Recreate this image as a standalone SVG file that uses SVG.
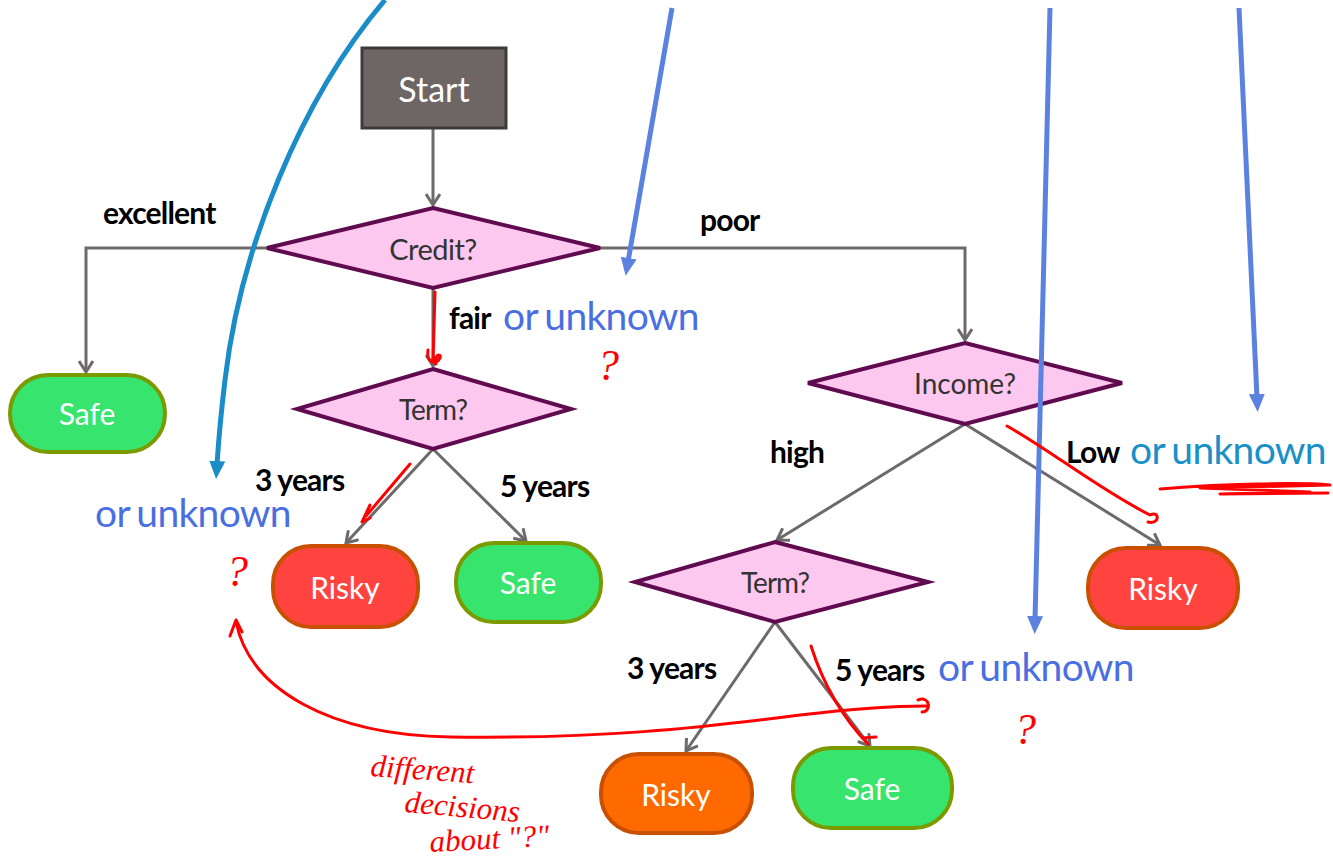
<svg xmlns="http://www.w3.org/2000/svg" width="1333" height="861" viewBox="0 0 1333 861">
<defs>
<style>
.node-text{font-family:Lato,"Open Sans",sans-serif;text-anchor:middle;dominant-baseline:central}
.dia{fill:#fdc8ef;stroke:#600a50;stroke-width:4;stroke-linejoin:miter}
.safe{fill:#36e46e;stroke:#7a9a00;stroke-width:4}
.risky{fill:#ff4440;stroke:#c85000;stroke-width:4}
.risky2{fill:#ff6a00;stroke:#c85000;stroke-width:4}
.conn{fill:none;stroke:#6f6a6a;stroke-width:3;marker-end:url(#open)}
.lbl{font-family:Lato,"Open Sans",sans-serif;font-weight:bold;font-size:30px;fill:#000;letter-spacing:-0.8px}
.unk{font-family:Lato,"Open Sans",sans-serif;font-size:39px;fill:#4a6fe0;letter-spacing:-0.7px;word-spacing:-2px}
.blue{fill:none;stroke:#5b82e0;stroke-width:5;marker-end:url(#tri)}
.cyan{fill:none;stroke:#1a8cc8;stroke-width:5;marker-end:url(#tric)}
.red{fill:none;stroke:#ff0000;stroke-width:3;stroke-linecap:round;stroke-linejoin:round}
.redtxt{font-family:"Liberation Serif",serif;font-style:italic;font-size:31px;fill:#ff0000}
.q{font-family:"Liberation Serif",serif;font-style:italic;font-size:44px;fill:#ff0000}
</style>
<marker id="open" markerWidth="16" markerHeight="16" refX="13" refY="8" orient="auto" markerUnits="userSpaceOnUse">
<path d="M2,1 L13,8 L2,15" fill="none" stroke="#6f6a6a" stroke-width="3"/>
</marker>
<marker id="tri" markerWidth="22" markerHeight="22" refX="4" refY="11" orient="auto" markerUnits="userSpaceOnUse">
<path d="M0,3 L18,11 L0,19 Z" fill="#5b82e0"/>
</marker>
<marker id="tric" markerWidth="22" markerHeight="22" refX="4" refY="11" orient="auto" markerUnits="userSpaceOnUse">
<path d="M0,3 L18,11 L0,19 Z" fill="#1a8cc8"/>
</marker>
</defs>
<rect width="1333" height="861" fill="#ffffff"/>

<g id="connectors">
<path class="conn" d="M433,128 L433,205"/>
<path class="conn" d="M267,248 L86,248 L86,372"/>
<path class="conn" d="M600,248 L965,248 L965,340"/>
<path class="conn" d="M433,288 L433,366"/>
<path class="conn" d="M433,449 L346,543"/>
<path class="conn" d="M433,449 L526,541"/>
<path class="conn" d="M965,424 L777,540"/>
<path class="conn" d="M965,424 L1160,545"/>
<path class="conn" d="M775,622 L686,751"/>
<path class="conn" d="M775,622 L870,746"/>
</g>

<g id="start">
<rect x="362" y="48" width="144" height="80" fill="#6e6665" stroke="#3e3a3a" stroke-width="3"/>
<text class="node-text" x="434" y="88" font-size="34" fill="#ffffff">Start</text>
</g>
<g id="credit">
<polygon class="dia" points="433,208 600,248 433,288 267,248"/>
<text class="node-text" x="433" y="248" font-size="29" fill="#333" letter-spacing="-0.5">Credit?</text>
</g>
<g id="safe1">
<rect class="safe" x="10" y="375" width="155" height="77" rx="38"/>
<text class="node-text" x="87" y="413" font-size="30" fill="#fff">Safe</text>
</g>
<g id="term1">
<polygon class="dia" points="433,369 571,409 433,449 297,409"/>
<text class="node-text" x="433" y="409" font-size="28" fill="#333" letter-spacing="-1">Term?</text>
</g>
<g id="risky1">
<rect class="risky" x="273" y="546" width="145" height="81" rx="38"/>
<text class="node-text" x="345" y="587" font-size="30" fill="#fff">Risky</text>
</g>
<g id="safe2">
<rect class="safe" x="456" y="543" width="145" height="79" rx="38"/>
<text class="node-text" x="528" y="582" font-size="30" fill="#fff">Safe</text>
</g>
<g id="income">
<polygon class="dia" points="965,343 1122,383 965,424 808,383"/>
<text class="node-text" x="965" y="383" font-size="28" fill="#333">Income?</text>
</g>
<g id="term2">
<polygon class="dia" points="775,542 928,582 775,622 635,582"/>
<text class="node-text" x="775" y="582" font-size="28" fill="#333" letter-spacing="-1">Term?</text>
</g>
<g id="risky3">
<rect class="risky" x="1088" y="548" width="150" height="80" rx="38"/>
<text class="node-text" x="1163" y="588" font-size="30" fill="#fff">Risky</text>
</g>
<g id="risky2">
<rect class="risky2" x="601" y="754" width="151" height="79" rx="38"/>
<text class="node-text" x="676" y="794" font-size="30" fill="#fff">Risky</text>
</g>
<g id="safe3">
<rect class="safe" x="793" y="748" width="159" height="80" rx="38"/>
<text class="node-text" x="872" y="788" font-size="30" fill="#fff">Safe</text>
</g>

<g id="labels">
<text class="lbl" x="103" y="224">excellent</text>
<text class="lbl" x="700" y="231">poor</text>
<text class="lbl" x="449" y="329">fair</text>
<text class="unk" x="503" y="330">or unknown</text>
<text class="lbl" x="255" y="491">3 years</text>
<text class="lbl" x="500" y="497">5 years</text>
<text class="unk" x="95" y="527">or unknown</text>
<text class="lbl" x="770" y="463">high</text>
<text class="lbl" x="1066" y="463">Low</text>
<text class="unk" x="1130" y="464" style="fill:#1a90c8">or unknown</text>
<text class="lbl" x="627" y="679">3 years</text>
<text class="lbl" x="835" y="681">5 years</text>
<text class="unk" x="938" y="681">or unknown</text>
</g>

<g id="annotations">
<path class="cyan" d="M385,0 C300,100 240,250 225,380 C219,430 218,450 217,465"/>
<path class="blue" d="M672,8 L628,262"/>
<path class="blue" d="M1050,8 L1035,620"/>
<path class="blue" d="M1239,8 L1257,398"/>

<path class="red" d="M435,292 L433,362 M428,350 C426,362 436,366 440,358 C442,352 432,356 436,364"/>
<path class="red" d="M410,464 L366,516 M370,505 L362,522 L370,518"/>
<path class="red" d="M1007,426 C1050,450 1100,490 1150,515 C1160,510 1160,525 1148,522"/>
<path class="red" d="M1160,489 C1220,484 1300,482 1330,485 L1200,488 L1310,492 L1220,494 L1328,493"/>
<path class="red" d="M811,646 C825,690 845,720 868,744 M862,738 L876,737"/>
<path class="red" d="M236,622 C250,690 330,735 450,737 C600,739 700,728 800,715 C860,708 900,706 926,706 M918,700 C930,695 932,712 922,712"/>
<path class="red" d="M230,636 L236,620 L242,632"/>
<text class="q" x="597" y="380">?</text>
<text class="q" x="226" y="586">?</text>
<text class="q" x="1014" y="744">?</text>
<text class="redtxt" x="370" y="776" transform="rotate(4 370 776)">different</text>
<text class="redtxt" x="404" y="812" transform="rotate(5 404 812)">decisions</text>
<text class="redtxt" x="430" y="852" transform="rotate(-3 430 852)">about "?"</text>
</g>
</svg>
